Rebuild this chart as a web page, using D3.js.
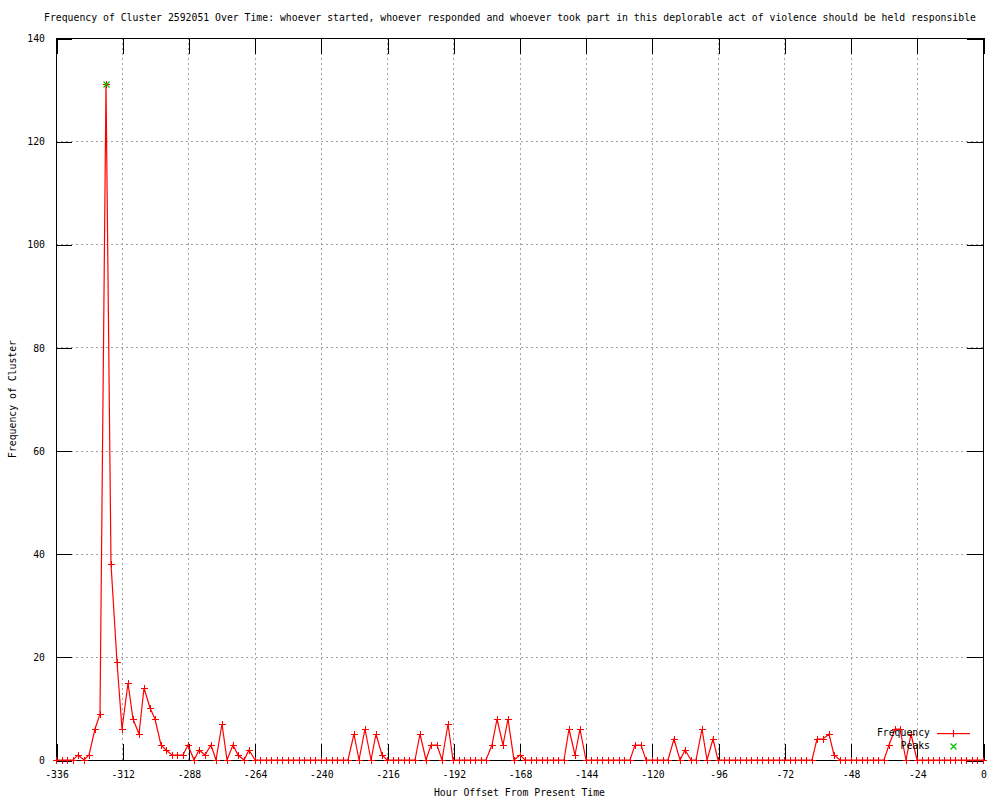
<!DOCTYPE html>
<html>
<head>
<meta charset="utf-8">
<script src="https://cdn.jsdelivr.net/npm/d3@7"></script>
<style>
  body { margin: 0; background: #fff; }
  svg { display: block; }
</style>
</head>
<body>
<script>
const width = 1000;
const height = 800;
const margin = { top: 38, right: 17, bottom: 40, left: 56 };

const titleText = "Frequency of Cluster 2592051 Over Time: whoever started, whoever responded and whoever took part in this deplorable act of violence should be held responsible";
const xLabel = "Hour Offset From Present Time";
const yLabel = "Frequency of Cluster";

// one value every 2 hours, from -336 up to 0
const startHour = -336;
const stepHours = 2;
const freq = [
  0, 0, 0, 0, 1, 0, 1, 6, 9, 131, 38, 19,   // -336 .. -314
  6, 15, 8, 5, 14, 10, 8, 3, 2, 1, 1, 1,    // -312 .. -290
  3, 0, 2, 1, 3, 0, 7, 0, 3, 1, 0, 2,       // -288 .. -266
  0, 0, 0, 0, 0, 0, 0, 0, 0, 0, 0, 0,       // -264 .. -242
  0, 0, 0, 0, 0, 0, 5, 0, 6, 0, 5, 1,       // -240 .. -218
  0, 0, 0, 0, 0, 0, 5, 0, 3, 3, 0, 7,       // -216 .. -194
  0, 0, 0, 0, 0, 0, 0, 3, 8, 3, 8, 0,       // -192 .. -170
  1, 0, 0, 0, 0, 0, 0, 0, 0, 6, 1, 6,       // -168 .. -146
  0, 0, 0, 0, 0, 0, 0, 0, 0, 3, 3, 0,       // -144 .. -122
  0, 0, 0, 0, 4, 0, 2, 0, 0, 6, 0, 4,       // -120 .. -98
  0, 0, 0, 0, 0, 0, 0, 0, 0, 0, 0, 0,       // -96 .. -74
  0, 0, 0, 0, 0, 0, 4, 4, 5, 1, 0, 0,       // -72 .. -50
  0, 0, 0, 0, 0, 0, 0, 3, 6, 6, 0, 5,       // -48 .. -26
  0, 0, 0, 0, 0, 0, 0, 0, 0, 0, 0, 0,       // -24 .. -2
  0                                         // 0
];

const peakHours = [-318];
const peakValues = [131];

const xTicks = [-336, -312, -288, -264, -240, -216, -192, -168, -144, -120, -96, -72, -48, -24, 0];
const yTicks = [0, 20, 40, 60, 80, 100, 120, 140];

const series = freq.map((v, i) => ({ hour: startHour + i * stepHours, value: v }));
const peaks = peakHours.map((h, i) => ({ hour: h, value: peakValues[i] }));

const lineColor = "rgb(255,0,0)";
const peakColor = "rgb(0,192,0)";

const x = d3.scaleLinear()
  .domain([-336, 0])
  .range([margin.left, width - margin.right]);

const y = d3.scaleLinear()
  .domain([0, 140])
  .range([height - margin.bottom, margin.top]);

const px = v => Math.round(v) + 0.5;

const svg = d3.select("body").append("svg")
  .attr("width", width)
  .attr("height", height)
  .style("font-family", "'DejaVu Sans Mono', monospace")
  .style("font-size", "9.8px");

svg.append("rect")
  .attr("width", width)
  .attr("height", height)
  .attr("fill", "#fff");

// grid
const grid = svg.append("g")
  .attr("stroke", "#a0a0a0")
  .attr("stroke-dasharray", "2,3")
  .attr("shape-rendering", "crispEdges");

grid.selectAll("line.vx")
  .data(xTicks.slice(1, -1))
  .enter().append("line")
  .attr("x1", d => px(x(d))).attr("x2", d => px(x(d)))
  .attr("y1", y(140)).attr("y2", y(0));

grid.selectAll("line.hy")
  .data(yTicks.slice(1, -1))
  .enter().append("line")
  .attr("x1", x(-336)).attr("x2", x(0))
  .attr("y1", d => px(y(d))).attr("y2", d => px(y(d)));

// axes, ticks drawn inward and mirrored
const tick = 16;
const noLabels = g => g.selectAll("text").remove();
const clean = g => g
  .call(g => g.select(".domain").remove())
  .call(g => g.selectAll("line").attr("shape-rendering", "crispEdges"))
  .call(g => g.selectAll("text").attr("fill", "#000"))
  .attr("font-family", null).attr("font-size", null);

svg.append("g")
  .attr("transform", `translate(0.5,${y(0)})`)
  .call(d3.axisBottom(x).tickValues(xTicks).tickFormat(d => String(d))
    .tickSizeInner(-tick).tickSizeOuter(0).tickPadding(11))
  .call(clean);

svg.append("g")
  .attr("transform", `translate(0.5,${y(140)})`)
  .call(d3.axisTop(x).tickValues(xTicks).tickSizeInner(-tick).tickSizeOuter(0))
  .call(clean).call(noLabels);

svg.append("g")
  .attr("transform", `translate(${x(-336)},0.5)`)
  .call(d3.axisLeft(y).tickValues(yTicks).tickFormat(d => String(d))
    .tickSizeInner(-tick).tickSizeOuter(0).tickPadding(11))
  .call(clean);

svg.append("g")
  .attr("transform", `translate(${x(0)},0.5)`)
  .call(d3.axisRight(y).tickValues(yTicks).tickSizeInner(-tick).tickSizeOuter(0))
  .call(clean).call(noLabels);

// border
svg.append("rect")
  .attr("x", px(x(-336)))
  .attr("y", px(y(140)))
  .attr("width", Math.round(x(0) - x(-336)))
  .attr("height", Math.round(y(0) - y(140)))
  .attr("fill", "none")
  .attr("stroke", "#000")
  .attr("shape-rendering", "crispEdges");

// frequency line
const line = d3.line()
  .x(d => Math.round(x(d.hour)))
  .y(d => Math.round(y(d.value)));

svg.append("path")
  .datum(series)
  .attr("d", line)
  .attr("fill", "none")
  .attr("stroke", lineColor)
  .attr("stroke-width", 1.2);

const plus = "M-3.5,0H3.5M0,-3.5V3.5";
const cross = "M-3,-3L3,3M-3,3L3,-3";

svg.append("g")
  .selectAll("path")
  .data(series)
  .enter().append("path")
  .attr("transform", d => `translate(${px(x(d.hour))},${px(y(d.value))})`)
  .attr("d", plus)
  .attr("stroke", lineColor)
  .attr("fill", "none")
  .attr("shape-rendering", "crispEdges");

svg.append("g")
  .selectAll("path")
  .data(peaks)
  .enter().append("path")
  .attr("transform", d => `translate(${px(x(d.hour))},${px(y(d.value))})`)
  .attr("d", cross)
  .attr("stroke", peakColor)
  .attr("stroke-width", 1.2)
  .attr("fill", "none");

// legend
const legendKeys = [
  { label: "Frequency", color: lineColor, shape: plus, rule: true },
  { label: "Peaks", color: peakColor, shape: cross, rule: false }
];

const legend = svg.append("g")
  .selectAll("g")
  .data(legendKeys)
  .enter().append("g")
  .attr("transform", (d, i) => `translate(0,${733 + i * 13})`);

legend.append("text")
  .attr("x", 930).attr("dy", "0.35em")
  .attr("text-anchor", "end")
  .attr("fill", "#000")
  .text(d => d.label);

legend.filter(d => d.rule).append("rect")
  .attr("x", 937).attr("y", 0).attr("width", 33).attr("height", 1.2)
  .attr("fill", d => d.color);

legend.append("path")
  .attr("transform", "translate(953.5,0.5)")
  .attr("d", d => d.shape)
  .attr("stroke", d => d.color)
  .attr("stroke-width", 1.2)
  .attr("fill", "none");

// titles
svg.append("text")
  .attr("x", 510).attr("y", 18).attr("dy", "0.35em")
  .attr("text-anchor", "middle")
  .text(titleText);

svg.append("text")
  .attr("x", (x(-336) + x(0)) / 2).attr("y", 793).attr("dy", "0.35em")
  .attr("text-anchor", "middle")
  .text(xLabel);

svg.append("text")
  .attr("transform", `translate(13,${(y(0) + y(140)) / 2}) rotate(-90)`)
  .attr("dy", "0.35em")
  .attr("text-anchor", "middle")
  .text(yLabel);
</script>
</body>
</html>
